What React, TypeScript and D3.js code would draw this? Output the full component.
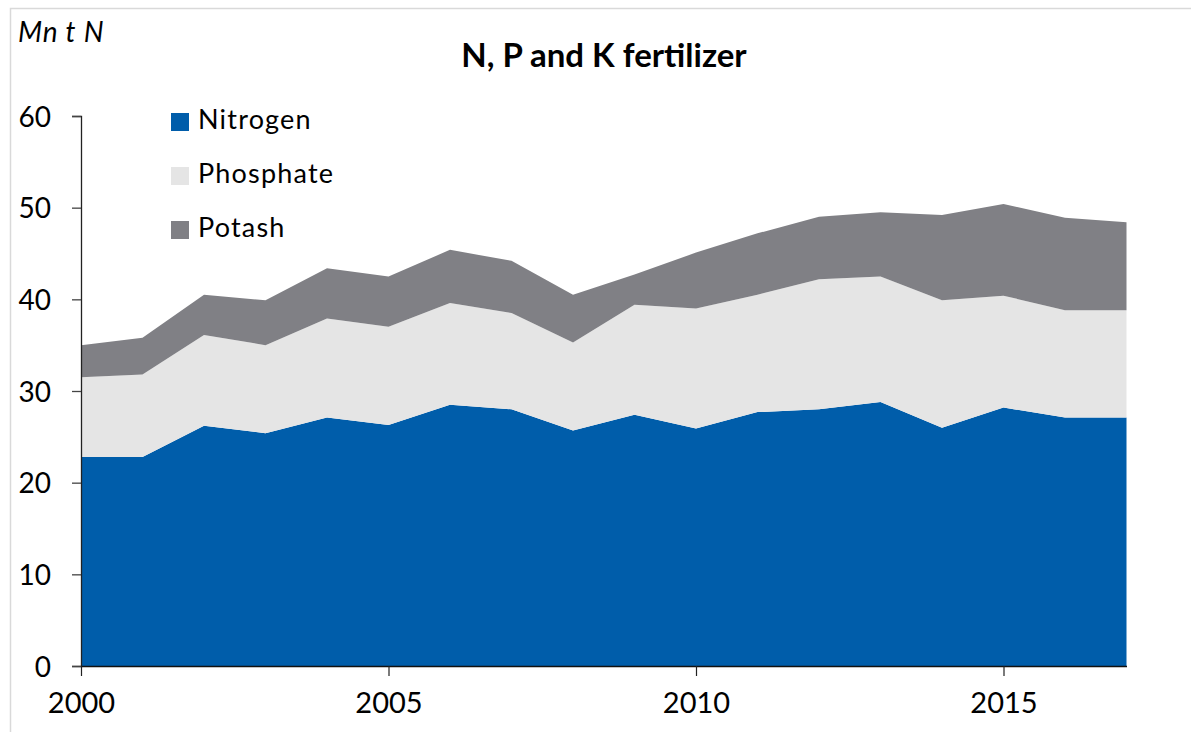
import React, { useEffect, useRef } from 'react';
import * as d3 from 'd3';

// values, Mn t per year
const years = [2000, 2001, 2002, 2003, 2004, 2005, 2006, 2007, 2008, 2009, 2010, 2011, 2012, 2013, 2014, 2015, 2016, 2017];
const nitrogen = [22.8, 22.8, 26.2, 25.4, 27.1, 26.3, 28.5, 28.0, 25.7, 27.4, 25.9, 27.7, 28.0, 28.8, 26.0, 28.2, 27.1, 27.1];
const phosphate = [8.7, 9.0, 9.9, 9.6, 10.8, 10.7, 11.1, 10.5, 9.6, 12.0, 13.1, 12.8, 14.2, 13.7, 13.9, 12.2, 11.7, 11.7];
const potash = [3.5, 4.0, 4.4, 4.9, 5.5, 5.5, 5.8, 5.7, 5.2, 3.3, 6.1, 6.7, 6.8, 7.0, 9.3, 10.0, 10.1, 9.6];
const yTicks = [0, 10, 20, 30, 40, 50, 60];
const xTicks = [2000, 2005, 2010, 2015];

const seriesNames = ['Nitrogen', 'Phosphate', 'Potash'];
const colors = ['#005DAA', '#E5E5E5', '#808085'];

const W = 1191;
const H = 732;
const font = 'Lato, "Noto Sans", sans-serif';

const App = () => {
  const ref = useRef<SVGSVGElement | null>(null);

  useEffect(() => {
    const svg = d3.select(ref.current);
    svg.selectAll('*').remove();

    const x = d3.scaleLinear().domain([2000, 2017]).range([81, 1126.5]);
    const y = d3.scaleLinear().domain([0, 60]).range([666, 116]);

    // chart frame (top + left edge only visible)
    svg.append('path')
      .attr('d', `M10.5,${H} V8.5 H${W}`)
      .attr('fill', 'none')
      .attr('stroke', '#D9D9D9')
      .attr('stroke-width', 1.5);

    const table = years.map((yr, i) => ({
      year: yr,
      Nitrogen: nitrogen[i],
      Phosphate: phosphate[i],
      Potash: potash[i],
    }));
    const stack = d3.stack<any>().keys(seriesNames);
    const layers = stack(table);

    const area = d3.area<any>()
      .x((d) => x(d.data.year))
      .y0((d) => y(d[0]))
      .y1((d) => y(d[1]));

    svg.append('g')
      .selectAll('path')
      .data(layers)
      .enter()
      .append('path')
      .attr('d', area)
      .attr('fill', (d, i) => colors[i]);

    // y axis
    const yAxis = svg.append('g')
      .attr('transform', 'translate(81,0)')
      .call(d3.axisLeft(y).tickValues(yTicks).tickSize(9).tickPadding(21));
    yAxis.select('.domain').attr('stroke', '#222').attr('stroke-width', 1.3);
    yAxis.selectAll('.tick line').attr('stroke', '#444').attr('stroke-width', 1.3);
    yAxis.selectAll('.tick text')
      .attr('font-family', font)
      .attr('font-size', 28)
      .attr('fill', '#000')
      .attr('dy', '0.36em');

    // x axis
    const xAxis = svg.append('g')
      .attr('transform', 'translate(0,666)')
      .call(d3.axisBottom(x).tickValues(xTicks).tickFormat(d3.format('d')).tickSize(10).tickSizeOuter(0).tickPadding(16));
    xAxis.select('.domain').attr('stroke', '#111').attr('stroke-width', 1.6);
    xAxis.selectAll('.tick line').attr('stroke', '#222').attr('stroke-width', 1.2);
    xAxis.selectAll('.tick text')
      .attr('font-family', font)
      .attr('font-size', 29)
      .attr('fill', '#000');

    // titles
    svg.append('text')
      .text('N, P and K fertilizer')
      .attr('x', 604)
      .attr('y', 67)
      .attr('text-anchor', 'middle')
      .attr('font-family', font)
      .attr('font-weight', 'bold')
      .attr('font-size', 33);

    svg.append('text')
      .text('Mn t N')
      .attr('x', 18)
      .attr('y', 42)
      .attr('font-family', font)
      .attr('font-style', 'italic')
      .attr('font-size', 28)
      .attr('letter-spacing', 0.8);

    // legend
    const legend = svg.selectAll('.legend')
      .data(seriesNames)
      .enter()
      .append('g')
      .attr('class', 'legend')
      .attr('transform', (d, i) => `translate(171, ${113 + i * 54})`);

    legend.append('rect')
      .attr('width', 18)
      .attr('height', 18)
      .attr('fill', (d, i) => colors[i]);

    legend.append('text')
      .text((d) => d)
      .attr('x', 27)
      .attr('y', 16)
      .attr('font-family', font)
      .attr('font-size', 27)
      .attr('letter-spacing', 1.2)
      .attr('fill', '#000');
  }, []);

  return (
    <div style={{ position: 'absolute', left: 0, top: 0 }}>
      <svg ref={ref} width={W} height={H} style={{ display: 'block', background: '#fff' }} />
    </div>
  );
};

export default App;
